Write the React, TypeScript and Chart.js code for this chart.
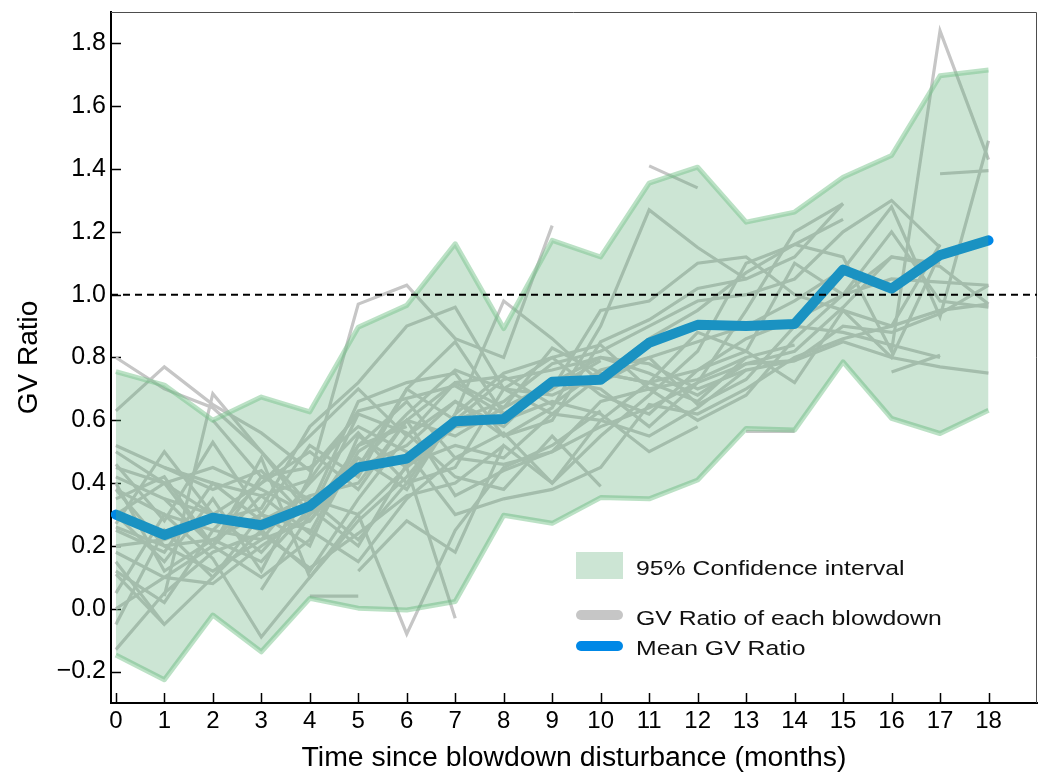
import React, { useEffect, useRef } from 'react';
import { Chart, registerables } from 'chart.js';

Chart.register(...registerables);

const _ = null;
const FONT = "'Liberation Sans', Arial, Helvetica, sans-serif";

const months = [0, 1, 2, 3, 4, 5, 6, 7, 8, 9, 10, 11, 12, 13, 14, 15, 16, 17, 18];
const xTickValues = [0, 1, 2, 3, 4, 5, 6, 7, 8, 9, 10, 11, 12, 13, 14, 15, 16, 17, 18];
const yTickValues = [-0.2, 0, 0.2, 0.4, 0.6, 0.8, 1.0, 1.2, 1.4, 1.6, 1.8];
const xRange = [-0.1, 19];
const yRange = [-0.3, 1.9];
const referenceLevel = 1.0;

const meanRatio = [0.30, 0.235, 0.29, 0.266, 0.327, 0.45, 0.478, 0.597, 0.604, 0.723, 0.729, 0.847, 0.904, 0.90, 0.907, 1.08, 1.019, 1.126, 1.173];
const ciUpper = [0.755, 0.712, 0.60, 0.674, 0.627, 0.896, 0.966, 1.162, 0.892, 1.173, 1.12, 1.355, 1.406, 1.231, 1.263, 1.374, 1.443, 1.697, 1.715];
const ciLower = [-0.147, -0.226, -0.02, -0.137, 0.033, 0.002, -0.004, 0.023, 0.298, 0.272, 0.354, 0.35, 0.41, 0.574, 0.569, 0.786, 0.606, 0.558, 0.632];

const blowdownSeries: (number | null)[][] = [
  [0.80, 0.70, 0.64, 0.50, 0.33, _, _, _, _, _, _, _, _, _, _, _, _, _, _],
  [0.63, 0.77, 0.65, 0.56, 0.44, 0.62, _, _, _, _, _, _, _, _, _, _, _, _, _],
  [_, 0.04, 0.685, 0.50, 0.30, 0.52, 0.58, _, _, _, _, _, _, _, _, _, _, _, _],
  [0.52, 0.45, 0.40, 0.36, 0.41, 0.63, 0.67, 0.71, 0.62, 0.70, 0.79, _, _, _, _, _, _, _, _],
  [0.46, 0.28, 0.53, 0.30, 0.20, 0.55, 0.45, -0.03, _, _, _, _, _, _, _, _, _, _, _],
  [0.35, 0.42, 0.20, 0.48, 0.10, 0.30, -0.08, 0.25, 0.45, 0.52, 0.63, _, _, _, _, _, _, _, _],
  [0.30, 0.15, 0.35, 0.12, 0.42, 0.97, 1.03, 0.86, 0.80, 1.22, _, _, _, _, _, _, _, _, _],
  [0.12, 0.02, 0.25, 0.40, 0.55, 0.70, 0.55, 0.72, 0.64, 0.72, 0.80, 0.78, 0.70, 0.76, _, _, _, _, _],
  [0.11, -0.05, _, _, _, _, _, _, _, _, _, _, _, _, _, _, _, _, _],
  [-0.13, 0.05, 0.18, 0.24, 0.13, 0.24, 0.36, 0.40, 0.52, _, _, _, _, _, _, _, _, _, _],
  [0.38, 0.30, 0.25, 0.22, 0.28, 0.46, 0.62, 0.76, 0.70, 0.68, 0.75, 0.72, 0.76, 0.82, 0.72, 0.95, 0.80, 1.13, _],
  [0.42, 0.35, 0.20, 0.36, 0.24, 0.52, 0.66, 0.48, 0.56, 0.40, 0.60, 0.72, 0.88, 0.82, 1.10, 1.00, 1.20, 0.98, 0.96],
  [0.27, 0.50, 0.30, 0.18, 0.35, 0.22, 0.40, 0.62, 0.98, 0.86, 0.72, 0.80, 0.85, 0.90, 0.98, 1.08, 1.28, 0.93, 1.49],
  [0.20, 0.22, 0.28, 0.32, 0.58, 0.72, 0.90, 0.96, 0.70, 0.62, 0.74, 0.86, 0.95, 1.07, 1.16, 1.12, 0.82, 1.84, 1.43],
  [_, _, _, _, _, 0.12, 0.28, 0.18, 0.52, 0.40, 0.55, 0.68, 0.82, 1.10, 1.16, 1.24, _, _, _],
  [0.25, 0.18, 0.40, 0.28, 0.36, 0.40, 0.60, 0.72, 0.74, 0.65, 0.76, 0.80, 0.65, 0.73, 0.90, 0.88, 0.84, 0.80, _],
  [0.50, 0.40, 0.30, 0.25, 0.12, 0.35, 0.55, 0.66, 0.58, 0.73, 0.70, 0.58, 0.72, 0.78, 0.79, 0.85, 0.80, 0.77, 0.75],
  [0.05, 0.30, 0.16, -0.09, 0.10, 0.28, 0.42, 0.60, 0.66, 0.78, 0.82, 0.90, 0.98, 1.00, 1.05, 1.20, 1.30, 1.15, _],
  [0.40, 0.12, 0.22, 0.15, 0.32, 0.66, 0.72, 0.75, 0.55, 0.60, 0.85, 0.92, 1.02, 1.05, 1.12, 1.29, _, _, _],
  [_, 0.45, 0.38, 0.44, 0.28, 0.48, 0.38, 0.62, 0.75, 0.80, 0.68, 0.62, 0.76, 0.86, 0.92, 1.00, 1.05, 1.04, 1.03],
  [_, _, _, _, _, _, _, _, _, _, _, _, _, _, _, _, _, 1.385, 1.395],
  [_, _, _, _, _, _, _, _, _, _, _, 1.41, 1.34, _, _, _, _, _, _],
  [0.18, 0.10, 0.08, 0.20, 0.30, 0.62, 0.56, 0.42, 0.38, 0.55, 0.39, _, _, _, _, _, _, _, _],
  [_, _, 0.60, 0.42, 0.35, 0.30, 0.45, 0.58, 0.60, 0.66, 0.62, 0.50, 0.58, _, _, _, _, _, _],
  [0.30, 0.40, 0.45, 0.38, 0.30, 0.45, 0.70, 0.85, 0.62, 0.70, 0.95, 0.98, 1.10, 1.12, 1.00, 0.95, 0.90, 1.16, _],
  [_, _, _, _, 0.04, 0.04, _, _, _, _, _, _, _, _, _, _, _, _, _],
  [_, _, _, _, _, _, _, _, _, _, _, _, _, 0.565, 0.565, _, _, _, _],
  [0.00, 0.10, 0.20, 0.42, 0.45, 0.58, 0.50, 0.30, 0.35, 0.38, 0.45, 0.65, 0.62, 0.70, 0.80, 0.86, 0.90, 0.95, 0.97],
  [0.26, 0.20, 0.22, 0.30, 0.52, 0.42, 0.70, 0.60, 0.73, 0.76, 0.80, 0.75, 0.68, 0.78, 0.82, 0.96, 1.12, 1.10, _],
  [0.45, 0.40, 0.20, 0.10, 0.22, 0.50, 0.60, 0.55, 0.64, 0.83, 0.75, 0.72, 0.66, 0.80, _, _, _, _, _],
  [-0.05, 0.25, 0.10, 0.30, 0.25, 0.15, 0.35, 0.48, 0.46, 0.50, 0.58, 0.64, 0.72, 0.95, 1.20, 1.29, _, _, _],
  [0.15, -0.05, 0.10, 0.25, 0.32, 0.20, 0.46, 0.52, 0.48, 0.62, 0.60, 0.55, 0.64, 0.76, 0.79, 0.90, 0.88, 0.94, 1.03],
  [_, 0.35, 0.30, 0.40, 0.50, 0.38, 0.60, 0.36, 0.44, 0.50, 0.66, 0.70, 0.73, 0.80, 0.84, _, _, _, _],
  [_, _, _, _, _, _, _, _, _, _, _, _, _, _, _, _, 0.754, 0.807, _],
  [0.38, 0.20, 0.12, 0.22, 0.40, 0.56, 0.40, 0.45, 0.70, 0.80, 0.84, 0.70, 0.60, 0.68, 0.86, 1.00, 1.12, 1.09, 0.97],
  [_, _, _, 0.06, 0.30, 0.45, 0.52, 0.66, 0.55, 0.64, 0.90, 1.27, 1.15, 1.05, _, _, _, _, _],
];

const legendLabels = ['95% Confidence interval', 'GV Ratio of each blowdown', 'Mean GV Ratio'];

const COLORS = {
  band: 'rgba(85,168,112,0.3)',
  bandSolid: 'rgb(204,229,212)',
  bandEdge: 'rgba(120,195,140,0.5)',
  gray: 'rgb(198,198,198)',
  blue: 'rgb(0,136,230)',
};

function fmtY(v: number) {
  const s = Math.abs(v).toFixed(1);
  return v < -1e-9 ? '\u2212' + s : s;
}

const decorPlugin = {
  id: 'decor',
  beforeDatasetsDraw(chart: any) {
    const { ctx, chartArea: a, scales } = chart;
    ctx.save();
    ctx.strokeStyle = '#4d4d4d';
    ctx.lineWidth = 1;
    ctx.beginPath();
    ctx.moveTo(a.left, a.top + 0.5);
    ctx.lineTo(a.right - 0.5, a.top + 0.5);
    ctx.lineTo(a.right - 0.5, a.bottom);
    ctx.stroke();
    ctx.strokeStyle = '#000';
    ctx.lineWidth = 1.5;
    ctx.beginPath();
    for (const v of yTickValues) {
      const py = Math.round(scales.y.getPixelForValue(v)) + 0.5;
      ctx.moveTo(a.left, py);
      ctx.lineTo(a.left + 10, py);
    }
    for (const v of xTickValues) {
      const px = Math.round(scales.x.getPixelForValue(v)) + 0.5;
      ctx.moveTo(px, a.bottom);
      ctx.lineTo(px, a.bottom - 10);
    }
    ctx.stroke();
    ctx.restore();
  },
  afterDraw(chart: any) {
    const { ctx } = chart;
    ctx.save();
    ctx.fillStyle = COLORS.bandSolid;
    ctx.fillRect(576, 552, 47, 27);
    ctx.lineCap = 'round';
    ctx.lineWidth = 10;
    ctx.strokeStyle = COLORS.gray;
    ctx.beginPath();
    ctx.moveTo(581, 615);
    ctx.lineTo(618, 615);
    ctx.stroke();
    ctx.strokeStyle = COLORS.blue;
    ctx.beginPath();
    ctx.moveTo(581, 646);
    ctx.lineTo(618, 646);
    ctx.stroke();
    ctx.fillStyle = '#111';
    ctx.font = `21px ${FONT}`;
    ctx.textBaseline = 'alphabetic';
    const ys = [575, 625, 655];
    legendLabels.forEach((t, i) => {
      ctx.save();
      ctx.translate(636, ys[i]);
      ctx.scale(1.18, 1);
      ctx.fillText(t, 0, 0);
      ctx.restore();
    });
    ctx.restore();
  },
};

export default function App() {
  const ref = useRef<HTMLCanvasElement>(null);
  useEffect(() => {
    if (!ref.current) return;
    const pts = (arr: (number | null)[]) => months.map((m, i) => ({ x: m, y: arr[i] ?? null }));
    const datasets: any[] = [];
    datasets.push({
      label: 'reference',
      data: xRange.map((x) => ({ x, y: referenceLevel })),
      borderColor: '#000',
      borderWidth: 2,
      borderDash: [7, 5],
      pointRadius: 0,
      fill: false,
      order: 0,
    });
    datasets.push({
      label: 'ciUpper',
      data: pts(ciUpper),
      borderColor: COLORS.bandEdge,
      borderWidth: 5,
      borderJoinStyle: 'round',
      backgroundColor: COLORS.band,
      fill: '+1',
      pointRadius: 0,
      order: 1,
    });
    datasets.push({
      label: 'ciLower',
      data: pts(ciLower),
      borderColor: COLORS.bandEdge,
      borderWidth: 5,
      borderJoinStyle: 'round',
      fill: false,
      pointRadius: 0,
      order: 2,
    });
    datasets.push({
      label: 'mean',
      data: pts(meanRatio),
      borderColor: COLORS.blue,
      borderWidth: 10,
      borderCapStyle: 'round',
      borderJoinStyle: 'round',
      fill: false,
      pointRadius: 0,
      order: 3,
    });
    blowdownSeries.forEach((s, k) => {
      datasets.push({
        label: 'blowdown' + k,
        data: pts(s),
        borderColor: COLORS.gray,
        borderWidth: 3.2,
        fill: false,
        spanGaps: false,
        pointRadius: 0,
        order: 4,
      });
    });

    const chart = new Chart(ref.current, {
      type: 'line',
      data: { datasets },
      options: {
        animation: false,
        responsive: true,
        maintainAspectRatio: false,
        layout: { padding: { left: 0, top: 12, right: 3, bottom: 0 } },
        plugins: { legend: { display: false }, tooltip: { enabled: false } },
        elements: { point: { radius: 0 }, line: { tension: 0 } },
        scales: {
          x: {
            type: 'linear',
            min: xRange[0],
            max: xRange[1],
            afterBuildTicks: (s: any) => {
              s.ticks = xTickValues.map((v) => ({ value: v }));
            },
            afterFit: (s: any) => {
              s.height = 75;
              s.paddingLeft = 0;
              s.paddingRight = 0;
            },
            grid: { display: false, drawTicks: false },
            border: { display: true, color: '#000', width: 2 },
            ticks: {
              autoSkip: false,
              maxRotation: 0,
              color: '#000',
              padding: 4,
              font: { family: FONT, size: 24 },
              callback: (v: any) => String(v),
            },
            title: {
              display: true,
              text: 'Time since blowdown disturbance (months)',
              color: '#000',
              font: { family: FONT, size: 28.4 },
              padding: { top: 0, bottom: 3 },
            },
          },
          y: {
            type: 'linear',
            min: yRange[0],
            max: yRange[1],
            afterBuildTicks: (s: any) => {
              s.ticks = yTickValues.map((v) => ({ value: v }));
            },
            afterFit: (s: any) => {
              s.width = 111;
              s.paddingTop = 0;
              s.paddingBottom = 0;
            },
            grid: { display: false, drawTicks: false },
            border: { display: true, color: '#000', width: 2 },
            ticks: {
              color: '#000',
              padding: 5,
              font: { family: FONT, size: 25 },
              callback: (v: any) => fmtY(Number(v)),
            },
            title: {
              display: true,
              text: 'GV Ratio',
              color: '#000',
              font: { family: FONT, size: 28 },
              padding: { top: 12, bottom: 4 },
            },
          },
        },
      },
      plugins: [decorPlugin],
    } as any);
    return () => chart.destroy();
  }, []);

  return (
    <div style={{ position: 'absolute', left: 0, top: 0, width: 1040, height: 778, background: '#fff' }}>
      <canvas ref={ref} />
    </div>
  );
}
